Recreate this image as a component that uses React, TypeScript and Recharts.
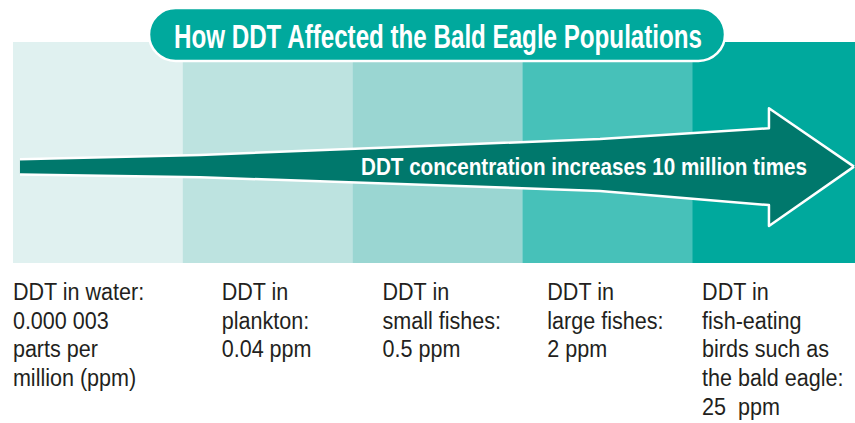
import { ComposedChart, Bar, Cell, Area, XAxis, YAxis } from 'recharts'

// food-chain stages, left to right
const stages = ['water', 'plankton', 'small fishes', 'large fishes', 'fish-eating birds']
const ddtPpm = [0.000003, 0.04, 0.5, 2, 25]
const bandLevel = [1, 1, 1, 1, 1]

const stageLabels = [
  ['DDT in water:', '0.000 003', 'parts per', 'million (ppm)'],
  ['DDT in', 'plankton:', '0.04 ppm'],
  ['DDT in', 'small fishes:', '0.5 ppm'],
  ['DDT in', 'large fishes:', '2 ppm'],
  ['DDT in', 'fish-eating', 'birds such as', 'the bald eagle:', '25\u00a0\u00a0ppm'],
]

// arrow outline, in band units (x) and band height (y)
const arrowX = [0.041, 1.101, 2.279, 3.457, 4.452, 4.452, 4.953]
const arrowTop = [0.469, 0.489, 0.525, 0.561, 0.61, 0.7, 0.436]
const arrowBottom = [0.401, 0.388, 0.357, 0.326, 0.262, 0.167, 0.436]

const TITLE = 'How DDT Affected the Bald Eagle Populations'
const ARROW_TEXT = 'DDT concentration increases 10 million times'

const BAND_COLORS = ['#e0f1f0', '#bde3e0', '#9ad6d2', '#47c1b9', '#00a99d']
const ARROW_COLOR = '#00786c'
const FONT = "'Liberation Sans', Arial, sans-serif"
const labelDx = [-85, -46, -55, -60, -75]

const W = 862
const H = 423
const MARGIN = { top: 42, right: 0, bottom: 0, left: 13 }

const bands = stages.map((s, i) => ({ stage: s, ppm: ddtPpm[i], level: bandLevel[i] }))
const arrow = arrowX.map((x, i) => ({ x, range: [arrowBottom[i], arrowTop[i]] }))

function StageTick(props: any) {
  const { x, y, index } = props
  const lines = stageLabels[index] ?? []
  const left = x + labelDx[index]
  return (
    <text
      transform={`translate(${left},${y}) scale(0.88,1)`}
      x={0}
      y={0}
      fill="#231f20"
      fontSize={24.5}
      fontFamily={FONT}
    >
      {lines.map((l, k) => (
        <tspan key={k} x={0} dy={k === 0 ? 37 : 28.7}>
          {l}
        </tspan>
      ))}
    </text>
  )
}

export default function App() {
  return (
    <div style={{ position: 'relative', width: W, height: H }}>
      <style>{'body{margin:0;overflow:hidden}'}</style>
      <ComposedChart
        width={W}
        height={H}
        data={bands}
        margin={MARGIN}
        barCategoryGap={0}
        barGap={0}
      >
        <XAxis
          dataKey="stage"
          height={160}
          axisLine={false}
          tickLine={false}
          tickSize={0}
          tickMargin={0}
          interval={0}
          tick={<StageTick />}
        />
        <YAxis domain={[0, 1]} hide allowDataOverflow />
        <Bar dataKey="level" isAnimationActive={false}>
          {bands.map((b, i) => (
            <Cell key={b.stage} fill={BAND_COLORS[i]} />
          ))}
        </Bar>
      </ComposedChart>

      {/* arrow sits in its own chart on top, same scales as the bands */}
      <div style={{ position: 'absolute', left: 0, top: 0 }}>
        <ComposedChart
          width={W}
          height={H}
          data={arrow}
          margin={{ ...MARGIN, bottom: 160 }}
        >
          <XAxis type="number" dataKey="x" domain={[0, 5]} hide allowDataOverflow />
          <YAxis domain={[0, 1]} hide allowDataOverflow />
          <Area
            dataKey="range"
            type="linear"
            fill={ARROW_COLOR}
            fillOpacity={1}
            stroke="#ffffff"
            strokeWidth={2.5}
            strokeLinejoin="round"
            dot={false}
            activeDot={false}
            isAnimationActive={false}
          />
        </ComposedChart>
      </div>

      <svg width={W} height={H} style={{ position: 'absolute', left: 0, top: 0 }}>
        <text
          x={361}
          y={175}
          fill="#ffffff"
          fontSize={23}
          fontWeight="bold"
          fontFamily={FONT}
          textLength={446}
          lengthAdjust="spacingAndGlyphs"
        >
          {ARROW_TEXT}
        </text>
        <rect x={149} y={8} width={576} height={53} rx={26.5} fill="#00a99d" stroke="#ffffff" strokeWidth={2.5} />
        <text
          x={174}
          y={47.5}
          fill="#ffffff"
          fontSize={34}
          fontWeight="bold"
          fontFamily={FONT}
          textLength={528}
          lengthAdjust="spacingAndGlyphs"
        >
          {TITLE}
        </text>
      </svg>
    </div>
  )
}
